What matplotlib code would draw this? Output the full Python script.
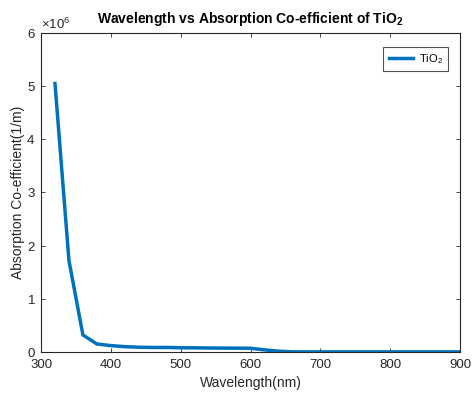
import matplotlib
matplotlib.use("Agg")
import matplotlib.pyplot as plt
from matplotlib.ticker import ScalarFormatter

plt.rcParams['font.family'] = ['Liberation Sans', 'DejaVu Sans']
plt.rcParams['mathtext.fontset'] = 'custom'
plt.rcParams['mathtext.rm'] = 'Liberation Sans'
plt.rcParams['mathtext.bf'] = 'Liberation Sans:bold'

wavelength = [320, 340, 360, 380, 400, 420, 440, 460, 480, 500, 520, 540, 560,
              580, 600, 620, 640, 660, 680, 700, 750, 800, 850, 900]
absorption = [5.05e6, 1.72e6, 0.32e6, 0.15e6, 0.12e6, 0.10e6, 0.09e6, 0.085e6,
              0.085e6, 0.08e6, 0.078e6, 0.075e6, 0.073e6, 0.072e6, 0.07e6,
              0.04e6, 0.015e6, 0.003e6, 0.002e6, 0.002e6, 0.002e6, 0.002e6,
              0.002e6, 0.002e6]

axis_color = '#262626'

fig = plt.figure(figsize=(4.72, 3.95), dpi=100)
ax = fig.add_axes([0.0869, 0.1089, 0.8877, 0.8076])
ax.plot(wavelength, absorption, color='#0072BD', linewidth=2.5, label='TiO$_2$')

ax.set_xlim(300, 900)
ax.set_ylim(0, 6e6)
ax.set_xticks([300, 400, 500, 600, 700, 800, 900])
ax.set_yticks([0, 1e6, 2e6, 3e6, 4e6, 5e6, 6e6])

fmt = ScalarFormatter(useMathText=True)
fmt.set_powerlimits((0, 0))
ax.yaxis.set_major_formatter(fmt)
ax.yaxis.get_offset_text().set_fontsize(9.5)
ax.yaxis.get_offset_text().set_color(axis_color)

ax.tick_params(direction='in', top=True, right=True, labelsize=9.5,
               colors=axis_color, length=3, width=0.6)
ax.tick_params(axis='x', pad=5)
ax.tick_params(axis='y', pad=4)
for sp in ax.spines.values():
    sp.set_color(axis_color)
    sp.set_linewidth(0.8)

ax.set_xlabel('Wavelength(nm)', fontsize=10, color=axis_color, labelpad=4)
ax.set_ylabel('Absorption Co-efficient(1/m)', fontsize=10, color=axis_color, labelpad=1)
ax.set_title('Wavelength vs Absorption Co-efficient of TiO$_\\mathbf{2}$',
             fontsize=10, fontweight='bold', pad=7)

leg = ax.legend(loc='upper right', fontsize=8, frameon=True, fancybox=False,
                borderpad=0.5, handlelength=2.2, handletextpad=0.5,
                bbox_to_anchor=(0.985, 0.975))
leg.get_frame().set_edgecolor(axis_color)
leg.get_frame().set_linewidth(0.8)

fig.savefig('out.png', dpi=100)
